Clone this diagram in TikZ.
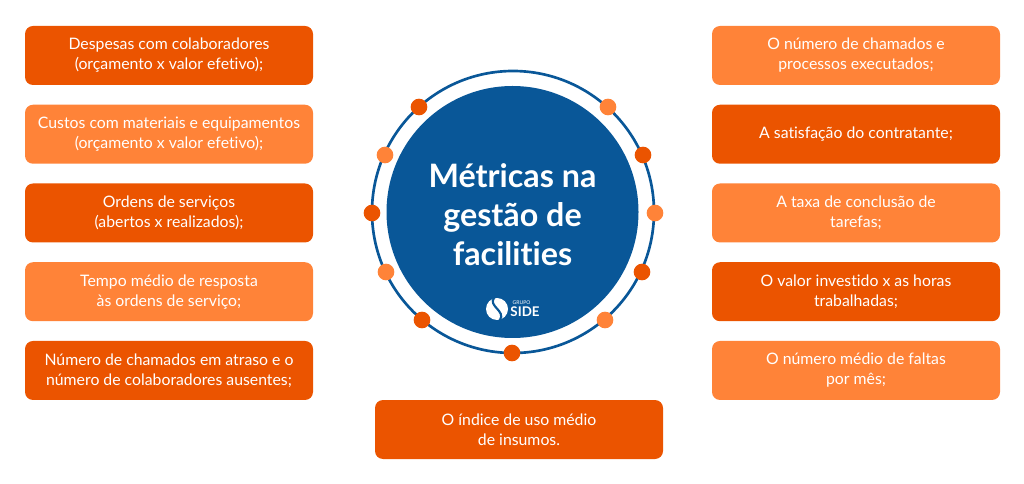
\documentclass[tikz,border=0pt]{standalone}
\usepackage{fontspec}
\setmainfont[Ligatures=NoCommon]{Lato}
\usetikzlibrary{positioning}
\definecolor{sidedark}{RGB}{235,84,0}
\definecolor{sidelight}{RGB}{255,131,56}
\definecolor{sideblue}{RGB}{9,87,152}
\tikzset{
node distance=59.06pt, % pitch of the box columns
metricbox/.style={rounded corners=6pt, minimum width=216pt, minimum height=44.25pt, inner sep=0pt, text=white, align=center, font=\fontsize{11.85}{15}\selectfont},
darkbox/.style={metricbox, fill=sidedark},
lightbox/.style={metricbox, fill=sidelight},
darkdot/.style={circle, fill=sidedark, inner sep=0pt, minimum size=12.5pt},
lightdot/.style={circle, fill=sidelight, inner sep=0pt, minimum size=12.5pt},
}
\begin{document}
\begin{tikzpicture}[x=0.75pt, y=-0.75pt]
  \useasboundingbox (0,0) rectangle (1024,484);

  % left column
  \node[darkbox] (despesas) at (169,55.5) {Despesas com colaboradores\\(orçamento x valor efetivo);};
  \node[lightbox, below of=despesas] (custos) {Custos com materiais e equipamentos\\(orçamento x valor efetivo);};
  \node[darkbox, below of=custos] (ordens) {Ordens de serviços\\(abertos x realizados);};
  \node[lightbox, below of=ordens] (tempo) {Tempo médio de resposta\\às ordens de serviço;};
  \node[darkbox, below of=tempo] (atraso) {Número de chamados em atraso e o\\número de colaboradores ausentes;};

  % right column
  \node[lightbox] (chamados) at (856,55.5) {O número de chamados e\\processos executados;};
  \node[darkbox, below of=chamados] (satisfacao) {A satisfação do contratante;};
  \node[lightbox, below of=satisfacao] (taxa) {A taxa de conclusão de\\tarefas;};
  \node[darkbox, below of=taxa] (valor) {O valor investido x as horas\\trabalhadas;};
  \node[lightbox, below of=valor] (faltas) {O número médio de faltas\\por mês;};

  \node[darkbox] (insumos) at (519,429.5) {O índice de uso médio\\de insumos.};

  % centre
  \node[circle, draw=sideblue, line width=2pt, minimum size=211.5pt, inner sep=0pt] (ring) at (513,212) {};
  \node[circle, fill=sideblue, minimum size=189pt, inner sep=0pt] (disc) at (512.5,212) {};
  \node[text=white, align=center, inner sep=0pt, font=\fontsize{24.2}{29.3}\selectfont\bfseries] (title) at (512.5,214.5) {Métricas na\\gestão de\\facilities};

  \node[darkdot] (dot1) at (419,107) {};
  \node[lightdot] (dot2) at (608,107) {};
  \node[lightdot] (dot3) at (385,155) {};
  \node[darkdot] (dot4) at (643,155) {};
  \node[darkdot] (dot5) at (372,213) {};
  \node[lightdot] (dot6) at (655,213) {};
  \node[lightdot] (dot7) at (386,272) {};
  \node[darkdot] (dot8) at (642,272) {};
  \node[darkdot] (dot9) at (422,320) {};
  \node[lightdot] (dot10) at (605,320) {};
  \node[darkdot] (dot11) at (512,353) {};

  % logo
  \node[circle, fill=white, minimum size=16.5pt, inner sep=0pt] (logo) at (497,309) {};
  \draw[sideblue, line width=1.6pt] (494,298) .. controls (488,306) and (506,311) .. (500,320);
  \node[text=white, inner sep=0pt, font=\fontsize{3.8}{4}\selectfont] (grupo) at (521.5,303) {GRUPO};
  \node[text=white, inner sep=0pt, font=\fontsize{10}{10}\selectfont\bfseries] (side) at (525,312) {SIDE};
\end{tikzpicture}
\end{document}
